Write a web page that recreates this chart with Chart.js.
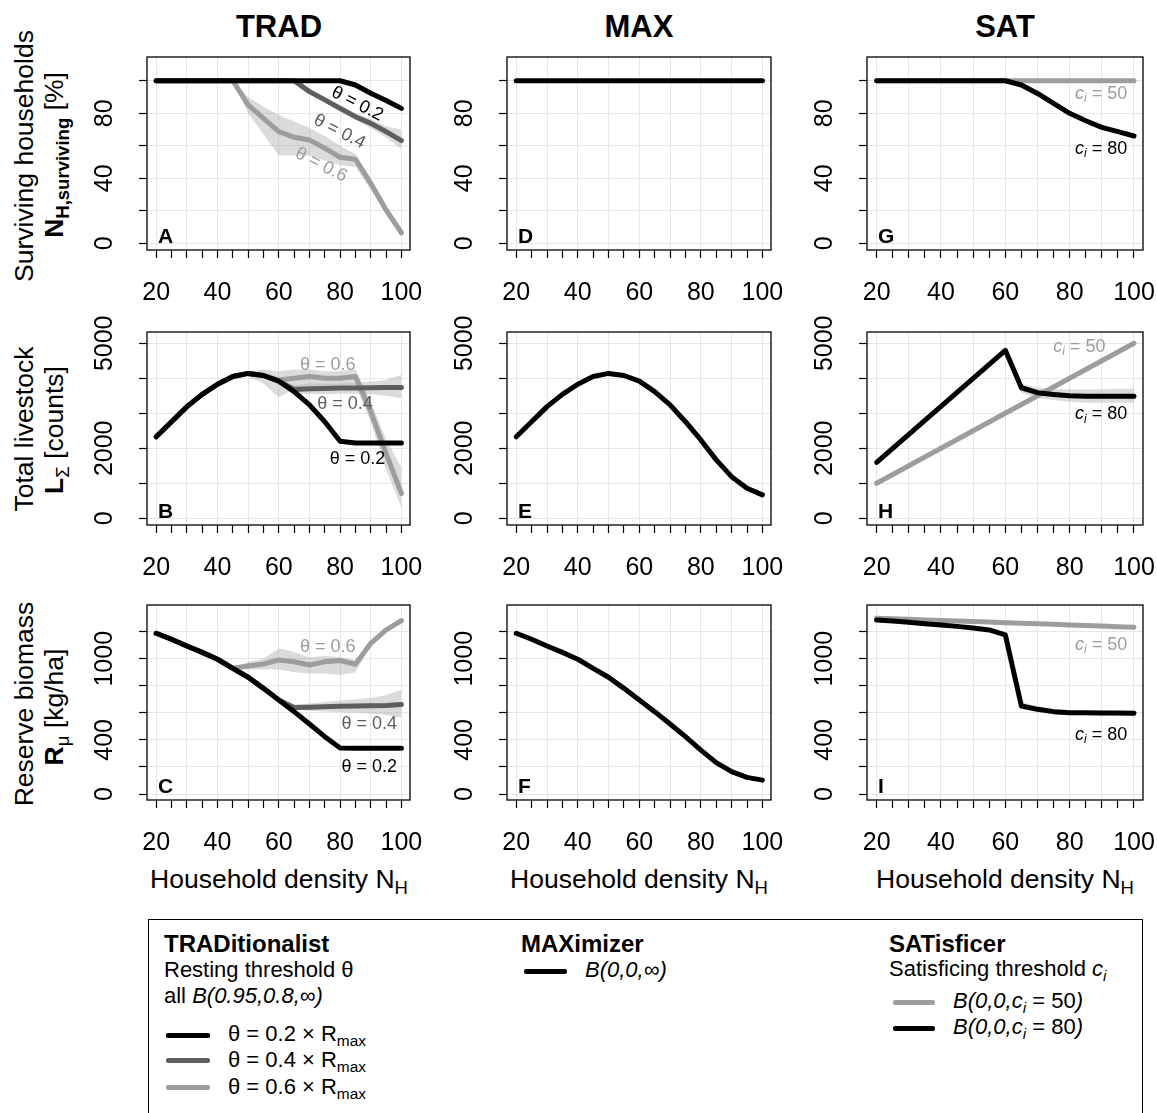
<!DOCTYPE html>
<html>
<head>
<meta charset="utf-8">
<script src="https://cdn.jsdelivr.net/npm/chart.js@4.4.1/dist/chart.umd.min.js"></script>
<style>
  body { margin: 0; background: #fff; }
  #page { position: relative; width: 1157px; height: 1113px; overflow: hidden;
          font-family: "Liberation Sans", Arial, sans-serif; color: #000; }
  #page canvas { position: absolute; }
  .t { position: absolute; white-space: nowrap; line-height: 1em; }
  .title { font-size: 31px; font-weight: bold; width: 200px; text-align: center; }
  .xlab { font-size: 26.5px; width: 320px; text-align: center; }
  .ylab { font-size: 26.5px; width: 340px; text-align: center; line-height: 30px;
          transform: rotate(-90deg); transform-origin: 50% 50%; }
  sub { font-size: 0.7em; vertical-align: -0.3em; line-height: 0; }
  .leg { font-size: 22px; }
  .legh { font-size: 24px; font-weight: bold; }
  .key { position: absolute; height: 5px; border-radius: 2px; }
  #legbox { position: absolute; left: 148px; top: 919px; width: 993px; height: 240px;
            border: 1.3px solid #000; }
</style>
</head>
<body>
<div id="page">
  <div class="t title" style="left:179px;top:11px">TRAD</div>
  <div class="t title" style="left:539px;top:11px">MAX</div>
  <div class="t title" style="left:905px;top:11px">SAT</div>

  <div class="t ylab" style="left:-146px;top:141px">Surviving households</div>
  <div class="t ylab" style="left:-116px;top:140px"><b>N<sub>H,surviving</sub></b> [%]</div>
  <div class="t ylab" style="left:-146px;top:414px">Total livestock</div>
  <div class="t ylab" style="left:-116px;top:415px"><b>L</b><sub>Σ</sub> [counts]</div>
  <div class="t ylab" style="left:-146px;top:689px">Reserve biomass</div>
  <div class="t ylab" style="left:-116px;top:692px"><b>R</b><sub>μ</sub> [kg/ha]</div>

  <div class="t xlab" style="left:119px;top:866px">Household density N<sub>H</sub></div>
  <div class="t xlab" style="left:479px;top:866px">Household density N<sub>H</sub></div>
  <div class="t xlab" style="left:845px;top:866px">Household density N<sub>H</sub></div>

  <div id="legbox"></div>
  <div class="t legh" style="left:164px;top:932px">TRADitionalist</div>
  <div class="t leg" style="left:164px;top:959px">Resting threshold θ</div>
  <div class="t leg" style="left:164px;top:985px">all <i>B(0.95,0.8,∞)</i></div>
  <div class="key" style="left:166px;top:1033px;width:44px;background:#000"></div>
  <div class="key" style="left:166px;top:1058px;width:44px;background:#5e5e5e"></div>
  <div class="key" style="left:166px;top:1085px;width:44px;background:#9d9d9d"></div>
  <div class="t leg" style="left:228px;top:1023px">θ = 0.2 × R<sub>max</sub></div>
  <div class="t leg" style="left:228px;top:1049px">θ = 0.4 × R<sub>max</sub></div>
  <div class="t leg" style="left:228px;top:1076px">θ = 0.6 × R<sub>max</sub></div>

  <div class="t legh" style="left:521px;top:932px">MAXimizer</div>
  <div class="key" style="left:524px;top:969px;width:43px;background:#000"></div>
  <div class="t leg" style="left:585px;top:959px"><i>B(0,0,∞)</i></div>

  <div class="t legh" style="left:889px;top:932px">SATisficer</div>
  <div class="t leg" style="left:889px;top:958px">Satisficing threshold <i>c<sub>i</sub></i></div>
  <div class="key" style="left:893px;top:1000px;width:42px;background:#9d9d9d"></div>
  <div class="key" style="left:893px;top:1026px;width:42px;background:#000"></div>
  <div class="t leg" style="left:953px;top:990px"><i>B(0,0,c<sub>i</sub></i> = 50<i>)</i></div>
  <div class="t leg" style="left:953px;top:1016px"><i>B(0,0,c<sub>i</sub></i> = 80<i>)</i></div>
</div>

<script>
// household density (x) and axis ticks
const households = [20, 25, 30, 35, 40, 45, 50, 55, 60, 65, 70, 75, 80, 85, 90, 95, 100];
const xTickLabels = [20, 40, 60, 80, 100];
const survTicks = [0, 20, 40, 60, 80, 100];
const survTickLabels = [0, 40, 80];
const stockTicks = [0, 1000, 2000, 3000, 4000, 5000];
const stockTickLabels = [0, 2000, 5000];
const biomassTicks = [0, 200, 400, 600, 800, 1000, 1200];
const biomassTickLabels = [0, 400, 1000];

// surviving households [%]
const survTrad02 = [100, 100, 100, 100, 100, 100, 100, 100, 100, 100, 100, 100, 100, 97.4, 92.3, 87.8, 83];
const survTrad04 = [100, 100, 100, 100, 100, 100, 100, 100, 100, 100, 93.3, 88.2, 83, 77.9, 73.8, 68.7, 63.2];
const survTrad06 = [100, 100, 100, 100, 100, 100, 85.1, 76.9, 68.7, 65.2, 63.6, 58.5, 52.9, 51.7, 36.9, 20.5, 6.5];
const survTrad02Hi = [null, null, null, null, null, null, null, null, null, null, null, null, 100, 98.5, 93.5, 89, 84];
const survTrad02Lo = [null, null, null, null, null, null, null, null, null, null, null, null, 100, 96.5, 91, 86.5, 82];
const survTrad04Hi = [null, null, null, null, null, null, null, null, null, 100, 95, 90, 85, 80, 76.5, 72, 70];
const survTrad04Lo = [null, null, null, null, null, null, null, null, null, 100, 92, 86.5, 81, 76, 71, 65, 58];
const survTrad06Hi = [null, null, null, null, null, 100, 90, 84, 79, 75, 71, 66, 60, 55, 40, 23, 9];
const survTrad06Lo = [null, null, null, null, null, 100, 80, 67, 54, 54, 54, 51, 48, 47, 33, 18, 4];
const survMax = [100, 100, 100, 100, 100, 100, 100, 100, 100, 100, 100, 100, 100, 100, 100, 100, 100];
const survSat50 = [100, 100, 100, 100, 100, 100, 100, 100, 100, 100, 100, 100, 100, 100, 100, 100, 100];
const survSat80 = [100, 100, 100, 100, 100, 100, 100, 100, 100, 97.4, 92.2, 86.1, 80, 75.4, 71.3, 68.7, 66];
const survSat80Hi = [null, null, null, null, null, null, null, null, 100, 98, 93, 87, 81, 76.5, 72.3, 69.5, 67];
const survSat80Lo = [null, null, null, null, null, null, null, null, 100, 96.8, 91.3, 85.2, 79, 74.3, 70.3, 67.8, 65];

// total livestock [counts]
const lsTrad02 = [2330, 2760, 3190, 3540, 3830, 4050, 4140, 4080, 3920, 3620, 3240, 2760, 2200, 2150, 2150, 2150, 2150];
const lsTrad04 = [2330, 2760, 3190, 3540, 3830, 4050, 4140, 4080, 3920, 3680, 3700, 3710, 3720, 3725, 3730, 3735, 3740];
const lsTrad06 = [2330, 2760, 3190, 3540, 3830, 4050, 4140, 4080, 3950, 4000, 4050, 4000, 4000, 4050, 3050, 1850, 710];
const lsTrad04Hi = [null, null, null, null, null, null, null, null, 3920, 3800, 3850, 3850, 3850, 3870, 3900, 3950, 4100];
const lsTrad04Lo = [null, null, null, null, null, null, null, null, 3920, 3550, 3550, 3550, 3560, 3560, 3550, 3500, 3430];
const lsTrad06Hi = [null, null, null, null, null, 4050, 4200, 4250, 4200, 4250, 4250, 4200, 4200, 4250, 3350, 2250, 1450];
const lsTrad06Lo = [null, null, null, null, null, 4050, 4050, 3850, 3450, 3700, 3800, 3750, 3800, 3800, 2750, 1400, 300];
const lsMax = [2330, 2760, 3190, 3540, 3830, 4050, 4140, 4080, 3920, 3620, 3240, 2760, 2240, 1670, 1190, 860, 670];
const lsSat50 = [1000, 1250, 1500, 1750, 2000, 2250, 2500, 2750, 3000, 3250, 3500, 3750, 4000, 4250, 4500, 4750, 5000];
const lsSat80 = [1600, 2000, 2400, 2800, 3200, 3600, 4000, 4400, 4800, 3730, 3590, 3540, 3500, 3490, 3490, 3490, 3490];
const lsSat80Hi = [null, null, null, null, null, null, null, null, 4800, 3850, 3730, 3700, 3680, 3680, 3690, 3700, 3700];
const lsSat80Lo = [null, null, null, null, null, null, null, null, 4800, 3600, 3430, 3380, 3330, 3300, 3300, 3300, 3300];

// reserve biomass [kg/ha]
const bmTrad02 = [1188, 1144, 1094, 1047, 996, 929, 863, 781, 695, 609, 518, 424, 340, 338, 338, 338, 338];
const bmTrad04 = [1188, 1144, 1094, 1047, 996, 929, 863, 781, 695, 640, 642, 645, 648, 650, 652, 655, 662];
const bmTrad06 = [1188, 1144, 1094, 1047, 996, 929, 946, 961, 991, 978, 954, 978, 986, 959, 1114, 1213, 1281];
const bmTrad04Hi = [null, null, null, null, null, null, null, null, 695, 660, 670, 680, 690, 700, 710, 730, 770];
const bmTrad04Lo = [null, null, null, null, null, null, null, null, 695, 625, 615, 610, 605, 600, 595, 585, 565];
const bmTrad06Hi = [null, null, null, null, null, 929, 975, 1000, 1077, 1050, 1010, 1020, 1010, 990, 1130, 1230, 1290];
const bmTrad06Lo = [null, null, null, null, null, 929, 920, 920, 920, 900, 890, 890, 880, 900, 1100, 1200, 1270];
const bmMax = [1188, 1144, 1094, 1047, 996, 929, 863, 781, 695, 609, 518, 424, 325, 232, 165, 123, 103];
const bmSat50 = [1300, 1296, 1292, 1287, 1283, 1279, 1275, 1271, 1266, 1262, 1258, 1254, 1250, 1245, 1241, 1237, 1233];
const bmSat80 = [1287, 1279, 1269, 1259, 1249, 1239, 1227, 1213, 1176, 651, 626, 609, 601, 600, 598, 598, 597];
const bmSat80Hi = [null, null, null, null, null, null, null, null, 1176, 680, 650, 630, 620, 615, 615, 615, 615];
const bmSat80Lo = [null, null, null, null, null, null, null, null, 1176, 630, 605, 590, 585, 580, 580, 580, 575];

const BLACK = '#000000', DARK = '#5e5e5e', LIGHT = '#9d9d9d';
const BAND = 'rgba(170,170,170,0.42)', GRID = '#e6e6e6';
const FONT = '"Liberation Sans", Arial, sans-serif';

// panel frames on the page (plot box edges)
const colBox = [[147, 410], [507, 771], [867, 1143]];
const rowBox = [[57, 250], [332, 525], [605, 800]];
const xRange = [17, 102.8];
const rowRange = [[-4.1, 114.6], [-191, 5323], [-44, 1397]];
const rowTicks = [survTicks, stockTicks, biomassTicks];
const rowTickLabels = [survTickLabels, stockTickLabels, biomassTickLabels];

function pts(arr) {
  return households.map((h, i) => ({ x: h, y: arr[i] })).filter(p => p.y !== null);
}
function line(arr, color) {
  return { data: pts(arr), borderColor: color, borderWidth: 5, fill: false };
}
function band(hi, lo) {
  return [
    { data: pts(hi), borderColor: 'rgba(0,0,0,0)', borderWidth: 1, backgroundColor: BAND, fill: '+1' },
    { data: pts(lo), borderColor: 'rgba(0,0,0,0)', borderWidth: 1, fill: false }
  ];
}

function drawNote(ctx, px, py, n) {
  const parts = n.ci
    ? [{ t: 'c', f: 'italic 18px ' + FONT, dy: 0 }, { t: 'i', f: 'italic 12px ' + FONT, dy: 5 }, { t: ' = ' + n.ci, f: '18px ' + FONT, dy: 0 }]
    : [{ t: n.text, f: '18px ' + FONT, dy: 0 }];
  ctx.save();
  ctx.translate(px, py);
  ctx.rotate((n.rot || 0) * Math.PI / 180);
  ctx.fillStyle = n.color;
  ctx.textBaseline = 'middle';
  ctx.textAlign = 'left';
  let w = 0;
  parts.forEach(p => { ctx.font = p.f; w += ctx.measureText(p.t).width; });
  let cx = -w / 2;
  parts.forEach(p => { ctx.font = p.f; ctx.fillText(p.t, cx, p.dy); cx += ctx.measureText(p.t).width; });
  ctx.restore();
}

Chart.register({
  id: 'panelDeco',
  afterDraw(chart, args, o) {
    const { ctx, chartArea: a } = chart;
    const x = chart.scales.x, y = chart.scales.y;
    ctx.save();
    ctx.strokeStyle = '#000';
    ctx.lineWidth = 1.3;
    ctx.strokeRect(a.left, a.top, a.right - a.left, a.bottom - a.top);
    ctx.fillStyle = '#000';
    ctx.font = '25px ' + FONT;
    ctx.textAlign = 'center';
    ctx.textBaseline = 'alphabetic';
    xTickLabels.forEach(v => ctx.fillText(String(v), x.getPixelForValue(v), a.bottom + 50));
    o.yLabels.forEach(v => {
      ctx.save();
      ctx.translate(a.left - 35, y.getPixelForValue(v));
      ctx.rotate(-Math.PI / 2);
      ctx.fillText(String(v), 0, 0);
      ctx.restore();
    });
    ctx.font = 'bold 21px ' + FONT;
    ctx.textAlign = 'left';
    ctx.fillText(o.letter, a.left + 11, a.bottom - 7);
    o.notes.forEach(n => drawNote(ctx, x.getPixelForValue(n.x), y.getPixelForValue(n.y), n));
    ctx.restore();
  }
});

const page = document.getElementById('page');

function panel(col, row, letter, datasets, notes) {
  const [x0, x1] = colBox[col], [y0, y1] = rowBox[row];
  const padL = 80, padT = 30, padR = 30, padB = 60;
  const cv = document.createElement('canvas');
  cv.width = x1 - x0 + padL + padR;
  cv.height = y1 - y0 + padT + padB;
  cv.style.left = (x0 - padL) + 'px';
  cv.style.top = (y0 - padT) + 'px';
  page.appendChild(cv);
  new Chart(cv, {
    type: 'line',
    data: { datasets },
    options: {
      responsive: false,
      animation: false,
      events: [],
      layout: { padding: { top: padT, right: padR, left: 0, bottom: 0 } },
      elements: {
        point: { radius: 0 },
        line: { tension: 0, borderCapStyle: 'round', borderJoinStyle: 'round' }
      },
      plugins: {
        legend: { display: false },
        tooltip: { enabled: false },
        panelDeco: { letter, notes, yLabels: rowTickLabels[row] }
      },
      scales: {
        x: {
          type: 'linear', min: xRange[0], max: xRange[1],
          afterBuildTicks: s => { s.ticks = households.map(v => ({ value: v })); },
          afterFit: s => { s.height = padB; },
          ticks: { display: false },
          border: { display: false },
          grid: {
            color: c => (c.tick && c.tick.value % 10 === 0) ? GRID : 'rgba(0,0,0,0)',
            tickColor: '#000', tickLength: 8, lineWidth: 1, tickWidth: 1.2
          }
        },
        y: {
          type: 'linear', min: rowRange[row][0], max: rowRange[row][1],
          afterBuildTicks: s => { s.ticks = rowTicks[row].map(v => ({ value: v })); },
          afterFit: s => { s.width = padL; },
          ticks: { display: false },
          border: { display: false },
          grid: { color: GRID, tickColor: '#000', tickLength: 8, lineWidth: 1, tickWidth: 1.2 }
        }
      }
    }
  });
}

// row 1: surviving households
panel(0, 0, 'A',
  [line(survTrad02, BLACK), line(survTrad04, DARK), line(survTrad06, LIGHT),
   ...band(survTrad02Hi, survTrad02Lo), ...band(survTrad04Hi, survTrad04Lo), ...band(survTrad06Hi, survTrad06Lo)],
  [{ x: 85.6, y: 85.7, text: 'θ = 0.2', color: BLACK, rot: 27 },
   { x: 79.8, y: 68.6, text: 'θ = 0.4', color: DARK, rot: 27 },
   { x: 73.8, y: 48.2, text: 'θ = 0.6', color: LIGHT, rot: 27 }]);
panel(1, 0, 'D', [line(survMax, BLACK)], []);
panel(2, 0, 'G',
  [line(survSat80, BLACK), line(survSat50, LIGHT), ...band(survSat80Hi, survSat80Lo)],
  [{ x: 89.8, y: 91.8, ci: '50', color: LIGHT },
   { x: 89.8, y: 58, ci: '80', color: BLACK }]);

// row 2: total livestock
panel(0, 1, 'B',
  [line(lsTrad02, BLACK), line(lsTrad04, DARK), line(lsTrad06, LIGHT),
   ...band(lsTrad04Hi, lsTrad04Lo), ...band(lsTrad06Hi, lsTrad06Lo)],
  [{ x: 76, y: 4380, text: 'θ = 0.6', color: LIGHT },
   { x: 81.6, y: 3257, text: 'θ = 0.4', color: DARK },
   { x: 85.7, y: 1694, text: 'θ = 0.2', color: BLACK }]);
panel(1, 1, 'E', [line(lsMax, BLACK)], []);
panel(2, 1, 'H',
  [line(lsSat80, BLACK), line(lsSat50, LIGHT), ...band(lsSat80Hi, lsSat80Lo)],
  [{ x: 83, y: 4903, ci: '50', color: LIGHT },
   { x: 89.8, y: 2971, ci: '80', color: BLACK }]);

// row 3: reserve biomass
panel(0, 2, 'C',
  [line(bmTrad02, BLACK), line(bmTrad04, DARK), line(bmTrad06, LIGHT),
   ...band(bmTrad04Hi, bmTrad04Lo), ...band(bmTrad06Hi, bmTrad06Lo)],
  [{ x: 76, y: 1089, text: 'θ = 0.6', color: LIGHT },
   { x: 89.5, y: 518, text: 'θ = 0.4', color: DARK },
   { x: 89.5, y: 202, text: 'θ = 0.2', color: BLACK }]);
panel(1, 2, 'F', [line(bmMax, BLACK)], []);
panel(2, 2, 'I',
  [line(bmSat80, BLACK), line(bmSat50, LIGHT), ...band(bmSat80Hi, bmSat80Lo)],
  [{ x: 89.8, y: 1102, ci: '50', color: LIGHT },
   { x: 89.8, y: 436, ci: '80', color: BLACK }]);
</script>
</body>
</html>
